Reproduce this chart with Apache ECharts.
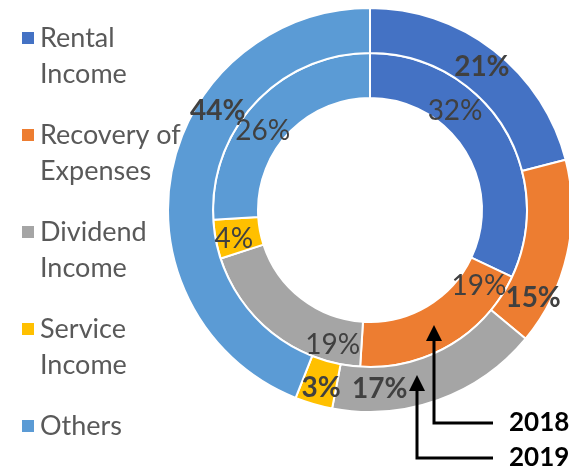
<!DOCTYPE html>
<html>
<head>
<meta charset="utf-8">
<script src="https://cdn.jsdelivr.net/npm/echarts@6/dist/echarts.min.js"></script>
<style>
  html, body { margin: 0; padding: 0; background: #fff; }
  #container { width: 569px; height: 469px; }
</style>
</head>
<body>
<div id="container"></div>
<script>
var categories = ['Rental Income', 'Recovery of Expenses', 'Dividend Income', 'Service Income', 'Others'];
var colors = ['#4472C4', '#ED7D31', '#A5A5A5', '#FFC000', '#5B9BD5'];
var values2018 = [32, 19, 19, 4, 26];   // inner ring
var values2019 = [21, 15, 17, 3, 44];   // outer ring

// label nudges, to put the percentages where the original had them
var innerShift = [[-31, -25], [39, -42], [47, 26], [-1, 3], [-7, 15]];
var outerShift = [[0, 1], [-15, 48], [-52, 7], [2, 3], [27, -65]];

var font = 'Lato, "Open Sans", sans-serif';

// square at the top of a tall box, so it lines up with the first of two text lines
var iconTop = 'path://M0,0h14v14h-14zM0,49.9h0.1v0.1h-0.1z';
var iconMid = 'path://M0,0h14v14h-14z';

function ringData(values, shifts) {
  return values.map(function (v, i) {
    return {
      name: categories[i],
      value: v,
      itemStyle: { color: colors[i] },
      label: { offset: shifts[i] }
    };
  });
}

var myChart = echarts.init(document.getElementById('container'));

var option = {
  animation: false,
  legend: {
    orient: 'vertical',
    left: 20,
    top: 20,
    padding: 0,
    itemGap: 25,
    itemWidth: 14,
    itemHeight: 50,
    textStyle: {
      color: '#595959',
      fontSize: 27,
      lineHeight: 36,
      fontFamily: font
    },
    formatter: function (name) {
      var k = name.lastIndexOf(' ');
      return k < 0 ? name : name.slice(0, k) + '\n' + name.slice(k + 1);
    },
    data: categories.map(function (c) {
      return { name: c, icon: c.indexOf(' ') < 0 ? iconMid : iconTop };
    })
  },
  series: [
    {
      name: '2018',
      type: 'pie',
      center: [370, 210],
      radius: [112, 157],
      startAngle: 90,
      clockwise: true,
      silent: true,
      avoidLabelOverlap: false,
      labelLayout: { hideOverlap: false },
      itemStyle: { borderColor: '#fff', borderWidth: 2 },
      label: {
        position: 'inside',
        formatter: '{c}%',
        color: '#404040',
        fontSize: 28,
        fontFamily: font
      },
      labelLine: { show: false },
      data: ringData(values2018, innerShift)
    },
    {
      name: '2019',
      type: 'pie',
      center: [370, 210],
      radius: [157, 202],
      startAngle: 90,
      clockwise: true,
      silent: true,
      avoidLabelOverlap: false,
      labelLayout: { hideOverlap: false },
      itemStyle: { borderColor: '#fff', borderWidth: 2 },
      label: {
        position: 'inside',
        formatter: '{c}%',
        color: '#404040',
        fontSize: 28,
        fontWeight: 'bold',
        fontFamily: font
      },
      labelLine: { show: false },
      data: ringData(values2019, outerShift)
    }
  ],
  graphic: [
    { type: 'polyline', z: 100, shape: { points: [[493, 423], [434, 423], [434, 338]] },
      style: { stroke: '#000', lineWidth: 3, fill: null } },
    { type: 'polygon', z: 100, shape: { points: [[434, 325], [442, 341], [426, 341]] },
      style: { fill: '#000' } },
    { type: 'polyline', z: 100, shape: { points: [[493, 458], [417, 458], [417, 390]] },
      style: { stroke: '#000', lineWidth: 3, fill: null } },
    { type: 'polygon', z: 100, shape: { points: [[417, 375], [425, 391], [409, 391]] },
      style: { fill: '#000' } },
    { type: 'text', z: 100, left: 509, top: 410,
      style: { text: '2018', fill: '#000', font: 'bold 26px ' + font } },
    { type: 'text', z: 100, left: 509, top: 445,
      style: { text: '2019', fill: '#000', font: 'bold 26px ' + font } }
  ]
};

myChart.setOption(option);
</script>
</body>
</html>
